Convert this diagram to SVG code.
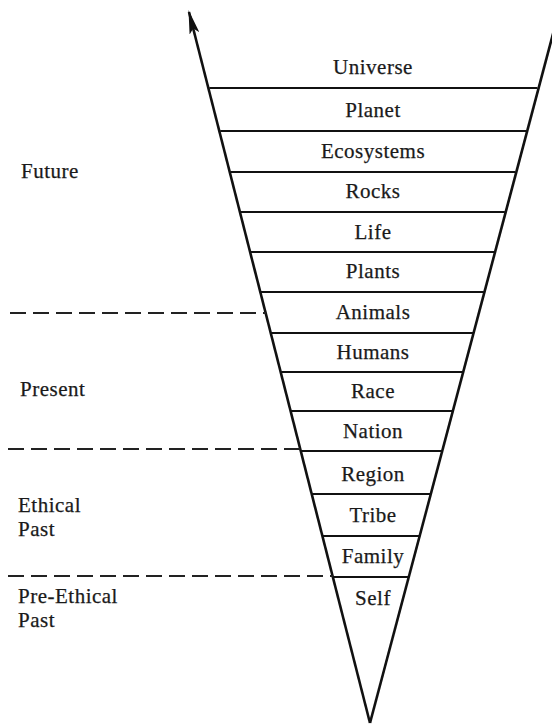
<svg xmlns="http://www.w3.org/2000/svg" width="552" height="727" viewBox="0 0 552 727">
<style>
.t{font-family:"Liberation Serif","Times New Roman",serif;font-size:21px;letter-spacing:0.5px;fill:#1a1a1a;stroke:#1a1a1a;stroke-width:0.25}
.c{text-anchor:middle}
.rung{stroke:#111;stroke-width:2.2;fill:none}
.side{stroke:#111;stroke-width:2.6;fill:none}
.dash{stroke:#222;stroke-width:2.2;stroke-dasharray:16 7;fill:none}
</style>
<defs>
<marker id="ah" viewBox="0 0 24 10" refX="22" refY="5" markerWidth="24" markerHeight="10" markerUnits="userSpaceOnUse" orient="auto">
<path d="M0,0 L24,5 L0,10 L5,5 Z" fill="#111"/>
</marker>
</defs>
<rect width="552" height="727" fill="#fff"/>
<g id="connectors">
<line class="side" x1="370" y1="723" x2="189" y2="12" marker-end="url(#ah)"/>
<line class="side" x1="370" y1="723" x2="562" y2="0" marker-end="url(#ah)"/>
<line class="dash" x1="10" y1="313" x2="266" y2="313"/>
<line class="dash" x1="8" y1="449" x2="301" y2="449"/>
<line class="dash" x1="8" y1="576" x2="333" y2="576"/>
</g>
<g id="levels">
<g id="universe"><text class="t c" x="373" y="74">Universe</text><line class="rung" x1="209.3" y1="88" x2="537.4" y2="88"/></g>
<g id="planet"><text class="t c" x="373" y="117">Planet</text><line class="rung" x1="220.2" y1="131" x2="526.1" y2="131"/></g>
<g id="ecosystems"><text class="t c" x="373" y="158">Ecosystems</text><line class="rung" x1="230.6" y1="172" x2="515.4" y2="172"/></g>
<g id="rocks"><text class="t c" x="373" y="198">Rocks</text><line class="rung" x1="240.7" y1="212" x2="504.9" y2="212"/></g>
<g id="life"><text class="t c" x="373" y="239">Life</text><line class="rung" x1="250.8" y1="252" x2="494.4" y2="252"/></g>
<g id="plants"><text class="t c" x="373" y="278">Plants</text><line class="rung" x1="261" y1="292" x2="483.9" y2="292"/></g>
<g id="animals"><text class="t c" x="373" y="319">Animals</text><line class="rung" x1="271.3" y1="333" x2="473.2" y2="333"/></g>
<g id="humans"><text class="t c" x="373" y="359">Humans</text><line class="rung" x1="281.2" y1="372" x2="463" y2="372"/></g>
<g id="race"><text class="t c" x="373" y="398">Race</text><line class="rung" x1="291.1" y1="411" x2="452.7" y2="411"/></g>
<g id="nation"><text class="t c" x="373" y="438">Nation</text><line class="rung" x1="301.2" y1="451" x2="442.3" y2="451"/></g>
<g id="region"><text class="t c" x="373" y="481">Region</text><line class="rung" x1="312.1" y1="494" x2="431" y2="494"/></g>
<g id="tribe"><text class="t c" x="373" y="522">Tribe</text><line class="rung" x1="322.7" y1="536" x2="420" y2="536"/></g>
<g id="family"><text class="t c" x="373" y="563">Family</text><line class="rung" x1="333.1" y1="577" x2="409.3" y2="577"/></g>
<g id="self"><text class="t c" x="373" y="605">Self</text></g>
</g>
<g id="eras">
<g id="future"><text class="t" x="21" y="178">Future</text></g>
<g id="present"><text class="t" x="20" y="396">Present</text></g>
<g id="ethical-past"><text class="t" x="18" y="512">Ethical</text><text class="t" x="18" y="536">Past</text></g>
<g id="pre-ethical-past"><text class="t" x="18" y="603">Pre-Ethical</text><text class="t" x="18" y="627">Past</text></g>
</g>
</svg>
